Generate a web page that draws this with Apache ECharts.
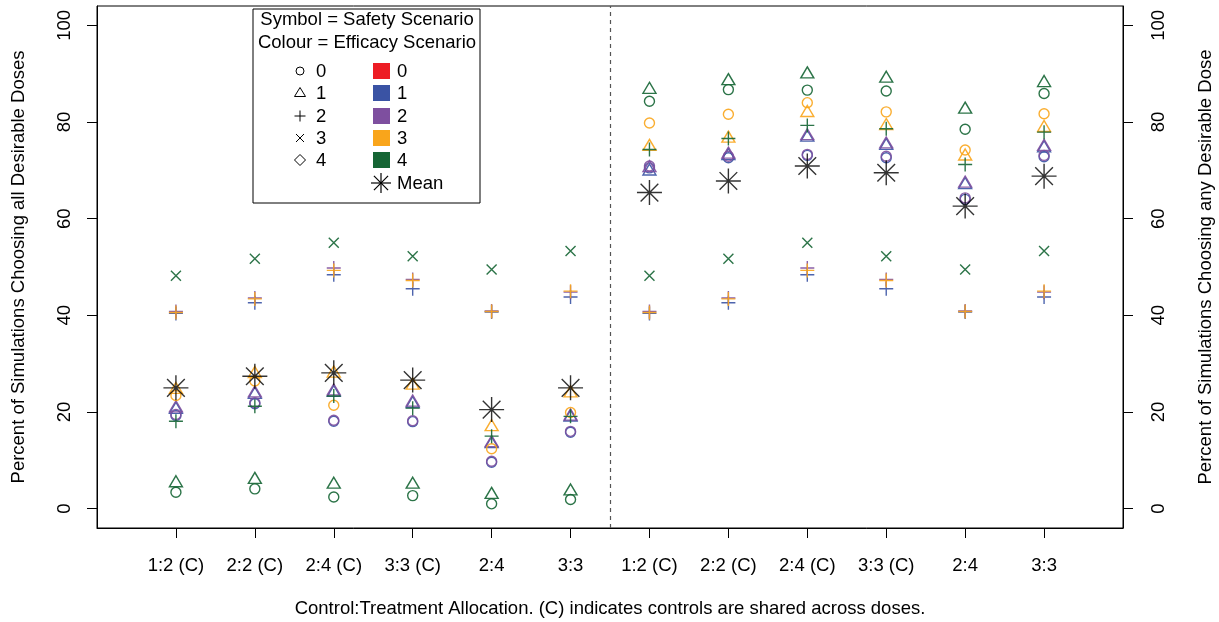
<!DOCTYPE html>
<html>
<head>
<meta charset="utf-8">
<script src="https://cdn.jsdelivr.net/npm/echarts@6/dist/echarts.min.js"></script>
<style>html,body{margin:0;padding:0;background:#fff;}#chart{width:1219px;height:622px;}</style>
</head>
<body>
<div id="chart"></div>
<script>
// ---- data ----
const categories = ['1:2 (C)','2:2 (C)','2:4 (C)','3:3 (C)','2:4','3:3','1:2 (C)','2:2 (C)','2:4 (C)','3:3 (C)','2:4','3:3'];
const yTicks = [0, 20, 40, 60, 80, 100];
const safetyLabels = ['0','1','2','3','4'];
const efficacyLabels = ['0','1','2','3','4'];

// safety 0 (circle)
const s0_e1 = [19.3, 21.7, 18.1, 18.0, 9.6, 15.8, 70.5, 72.6, 73.1, 72.6, 64.0, 72.8];
const s0_e2 = [19.5, 21.9, 18.3, 18.2, 9.8, 16.0, 70.9, 72.9, 73.3, 72.9, 64.3, 73.1];
const s0_e3 = [23.4, 26.4, 21.4, null, 12.4, 19.9, 79.8, 81.6, 84.0, 82.1, 74.2, 81.7];
const s0_e4 = [3.4, 4.1, 2.4, 2.7, 1.0, 1.9, 84.3, 86.7, 86.6, 86.4, 78.5, 85.9];
// safety 1 (triangle)
const s1_e1 = [20.5, 23.6, 24.0, 21.7, 13.4, 18.9, 69.8, 73.0, 76.8, 75.1, 67.0, 74.6];
const s1_e2 = [20.8, 23.9, 24.3, 22.0, 13.6, 19.1, 70.5, 73.3, 77.1, 75.4, 67.3, 74.9];
const s1_e3 = [24.6, 27.9, 28.0, 25.5, 16.9, 23.9, 74.9, 76.6, 81.9, 79.2, 72.9, 78.8];
const s1_e4 = [5.3, 6.0, 5.0, 5.0, 2.9, 3.6, 86.7, 88.5, 89.9, 89.0, 82.6, 88.1];
// safety 2 (plus)
const s2_e1 = [40.4, 42.6, 48.4, 45.5, 40.7, 43.8, 40.4, 42.6, 48.4, 45.5, 40.7, 43.8];
const s2_e2 = [40.8, 43.6, 49.8, 47.4, 40.9, 44.8, 40.8, 43.6, 49.8, 47.4, 40.9, 44.8];
const s2_e3 = [40.6, 43.4, 49.3, 47.2, 40.8, 45.0, 40.6, 43.4, 49.3, 47.2, 40.8, 45.0];
const s2_e4 = [18.1, 21.2, 23.3, 20.8, 15.0, 19.1, 74.3, 76.6, 79.3, 78.6, 71.2, 77.9];
// safety 3 (cross)
const s3_e4 = [48.2, 51.7, 55.0, 52.2, 49.5, 53.3, 48.2, 51.7, 55.0, 52.2, 49.5, 53.3];
// mean
const meanValues = [25.0, 27.4, 28.1, 26.6, 20.5, 25.0, 65.4, 67.8, 70.9, 69.5, 62.6, 68.8];

// ---- styles ----
const effColors = ['#ED1C24', '#3A53A4', '#7E4F9F', '#F9A51B', '#156534'];
const PLUS = 'path://M0,-1L0,1M-1,0L1,0';
const CROSS = 'path://M-1,-1L1,1M-1,1L1,-1';
const ASTER = 'path://M0,-1L0,1M-1,0L1,0M-0.7071,-0.7071L0.7071,0.7071M-0.7071,0.7071L0.7071,-0.7071';
const safetySymbols = [
  {symbol: 'circle', size: 10, offset: [0, 0]},
  {symbol: 'triangle', size: [13, 11], offset: [0, -1.8]},
  {symbol: PLUS, size: 14, offset: [0, 0]},
  {symbol: CROSS, size: 10, offset: [0, 0]},
  {symbol: 'diamond', size: 13, offset: [0, 0]}
];

const pointSets = [
  {s: 0, e: 1, v: s0_e1}, {s: 1, e: 1, v: s1_e1}, {s: 2, e: 1, v: s2_e1},
  {s: 0, e: 2, v: s0_e2}, {s: 1, e: 2, v: s1_e2}, {s: 2, e: 2, v: s2_e2},
  {s: 0, e: 3, v: s0_e3}, {s: 1, e: 3, v: s1_e3}, {s: 2, e: 3, v: s2_e3},
  {s: 0, e: 4, v: s0_e4}, {s: 1, e: 4, v: s1_e4}, {s: 2, e: 4, v: s2_e4}, {s: 3, e: 4, v: s3_e4}
];

function toData(vals) {
  const out = [];
  vals.forEach((v, i) => { if (v !== null) out.push([i + 1, v]); });
  return out;
}

const series = pointSets.map(p => {
  const sym = safetySymbols[p.s];
  return {
    type: 'scatter',
    name: 'S' + p.s + 'E' + p.e,
    data: toData(p.v),
    symbol: sym.symbol,
    symbolSize: sym.size,
    symbolOffset: sym.offset,
    silent: true,
    itemStyle: {color: 'rgba(0,0,0,0)', borderColor: effColors[p.e], borderWidth: 1.4, opacity: 0.9}
  };
});
series.push({
  type: 'scatter',
  name: 'Mean',
  data: toData(meanValues),
  symbol: ASTER,
  symbolSize: 25,
  silent: true,
  itemStyle: {color: 'rgba(0,0,0,0)', borderColor: '#000', borderWidth: 1.4},
  z: 5,
  markLine: {
    silent: true,
    symbol: ['none', 'none'],
    label: {show: false},
    lineStyle: {color: '#555', type: [4, 4], width: 1.2},
    data: [{xAxis: 6.5}]
  }
});

const FONT = 'Liberation Sans, Arial, Helvetica, sans-serif';
const FS = 18.5;
const xTickVals = categories.map((c, i) => i + 1);

// legend graphic (key only)
const LX = 253, LY = 9;
const rowY = [71, 93, 116, 138, 160];
const legendEls = [
  {type: 'rect', shape: {x: LX, y: LY, width: 227, height: 194}, style: {fill: '#fff', stroke: '#000', lineWidth: 1}},
  {type: 'text', x: 367, y: 20, style: {text: 'Symbol = Safety Scenario', font: FS + 'px ' + FONT, fill: '#000', align: 'center', verticalAlign: 'middle'}},
  {type: 'text', x: 367, y: 43, style: {text: 'Colour = Efficacy Scenario', font: FS + 'px ' + FONT, fill: '#000', align: 'center', verticalAlign: 'middle'}}
];
const sx = 300;
const ls = {stroke: '#000', fill: 'none', lineWidth: 1};
legendEls.push({type: 'circle', shape: {cx: sx, cy: rowY[0], r: 4}, style: ls});
legendEls.push({type: 'polygon', shape: {points: [[sx, rowY[1] - 5.5], [sx + 5.5, rowY[1] + 3.5], [sx - 5.5, rowY[1] + 3.5]]}, style: ls});
legendEls.push({type: 'polyline', shape: {points: [[sx - 5.5, rowY[2]], [sx + 5.5, rowY[2]]]}, style: ls});
legendEls.push({type: 'polyline', shape: {points: [[sx, rowY[2] - 5.5], [sx, rowY[2] + 5.5]]}, style: ls});
legendEls.push({type: 'polyline', shape: {points: [[sx - 4, rowY[3] - 4], [sx + 4, rowY[3] + 4]]}, style: ls});
legendEls.push({type: 'polyline', shape: {points: [[sx - 4, rowY[3] + 4], [sx + 4, rowY[3] - 4]]}, style: ls});
legendEls.push({type: 'polygon', shape: {points: [[sx, rowY[4] - 5.5], [sx + 5.5, rowY[4]], [sx, rowY[4] + 5.5], [sx - 5.5, rowY[4]]]}, style: ls});
safetyLabels.forEach((t, i) => {
  legendEls.push({type: 'text', x: 316, y: rowY[i] + 1, style: {text: t, font: FS + 'px ' + FONT, fill: '#000', align: 'left', verticalAlign: 'middle'}});
});
efficacyLabels.forEach((t, i) => {
  legendEls.push({type: 'rect', shape: {x: 373, y: rowY[i] - 8, width: 17, height: 16}, style: {fill: effColors[i]}});
  legendEls.push({type: 'text', x: 397, y: rowY[i] + 1, style: {text: t, font: FS + 'px ' + FONT, fill: '#000', align: 'left', verticalAlign: 'middle'}});
});
const mx = 381, my = 183, mr = 10;
[[0, -1, 0, 1], [-1, 0, 1, 0], [-0.7071, -0.7071, 0.7071, 0.7071], [-0.7071, 0.7071, 0.7071, -0.7071]].forEach(d => {
  legendEls.push({type: 'polyline', shape: {points: [[mx + d[0] * mr, my + d[1] * mr], [mx + d[2] * mr, my + d[3] * mr]]}, style: {stroke: '#000', lineWidth: 1.2}});
});
legendEls.push({type: 'text', x: 397, y: my + 1, style: {text: 'Mean', font: FS + 'px ' + FONT, fill: '#000', align: 'left', verticalAlign: 'middle'}});

function yAxisDef(pos, name, gap, margin) {
  return {
    type: 'value', min: -4, max: 104, position: pos,
    splitLine: {show: false},
    axisLine: {show: true, onZero: false, lineStyle: {color: '#000', width: 1}},
    axisTick: {show: true, length: 10, customValues: yTicks, lineStyle: {color: '#000'}},
    axisLabel: {customValues: yTicks, rotate: 90, margin: margin, color: '#000', fontSize: FS, fontFamily: FONT},
    name: name, nameLocation: 'middle', nameRotate: 90, nameGap: gap,
    nameTextStyle: {color: '#000', fontSize: FS, fontFamily: FONT}
  };
}

const option = {
  animation: false,
  backgroundColor: '#fff',
  grid: {left: 97, right: 96, top: 6, bottom: 94, show: true, borderColor: '#000', borderWidth: 1,
    containLabel: false, outerBoundsMode: 'none'},
  xAxis: {
    type: 'value', min: 0, max: 13,
    splitLine: {show: false},
    axisLine: {show: true, onZero: false, lineStyle: {color: '#000'}},
    axisTick: {show: true, length: 10, customValues: xTickVals, lineStyle: {color: '#000'}},
    axisLabel: {customValues: xTickVals, margin: 28, color: '#000', fontSize: FS, fontFamily: FONT,
      formatter: v => categories[Math.round(v) - 1] || ''},
    name: 'Control:Treatment Allocation. (C) indicates controls are shared across doses.',
    nameLocation: 'middle', nameGap: 71,
    nameTextStyle: {color: '#000', fontSize: FS, fontFamily: FONT}
  },
  yAxis: [
    yAxisDef('left', 'Percent of Simulations Choosing all Desirable Doses', 69, 23),
    yAxisDef('right', 'Percent of Simulations Choosing any Desirable Dose', 73, 26)
  ],
  graphic: legendEls,
  series: series
};

const chart = echarts.init(document.getElementById('chart'), null, {renderer: 'canvas'});
chart.setOption(option);
</script>
</body>
</html>
